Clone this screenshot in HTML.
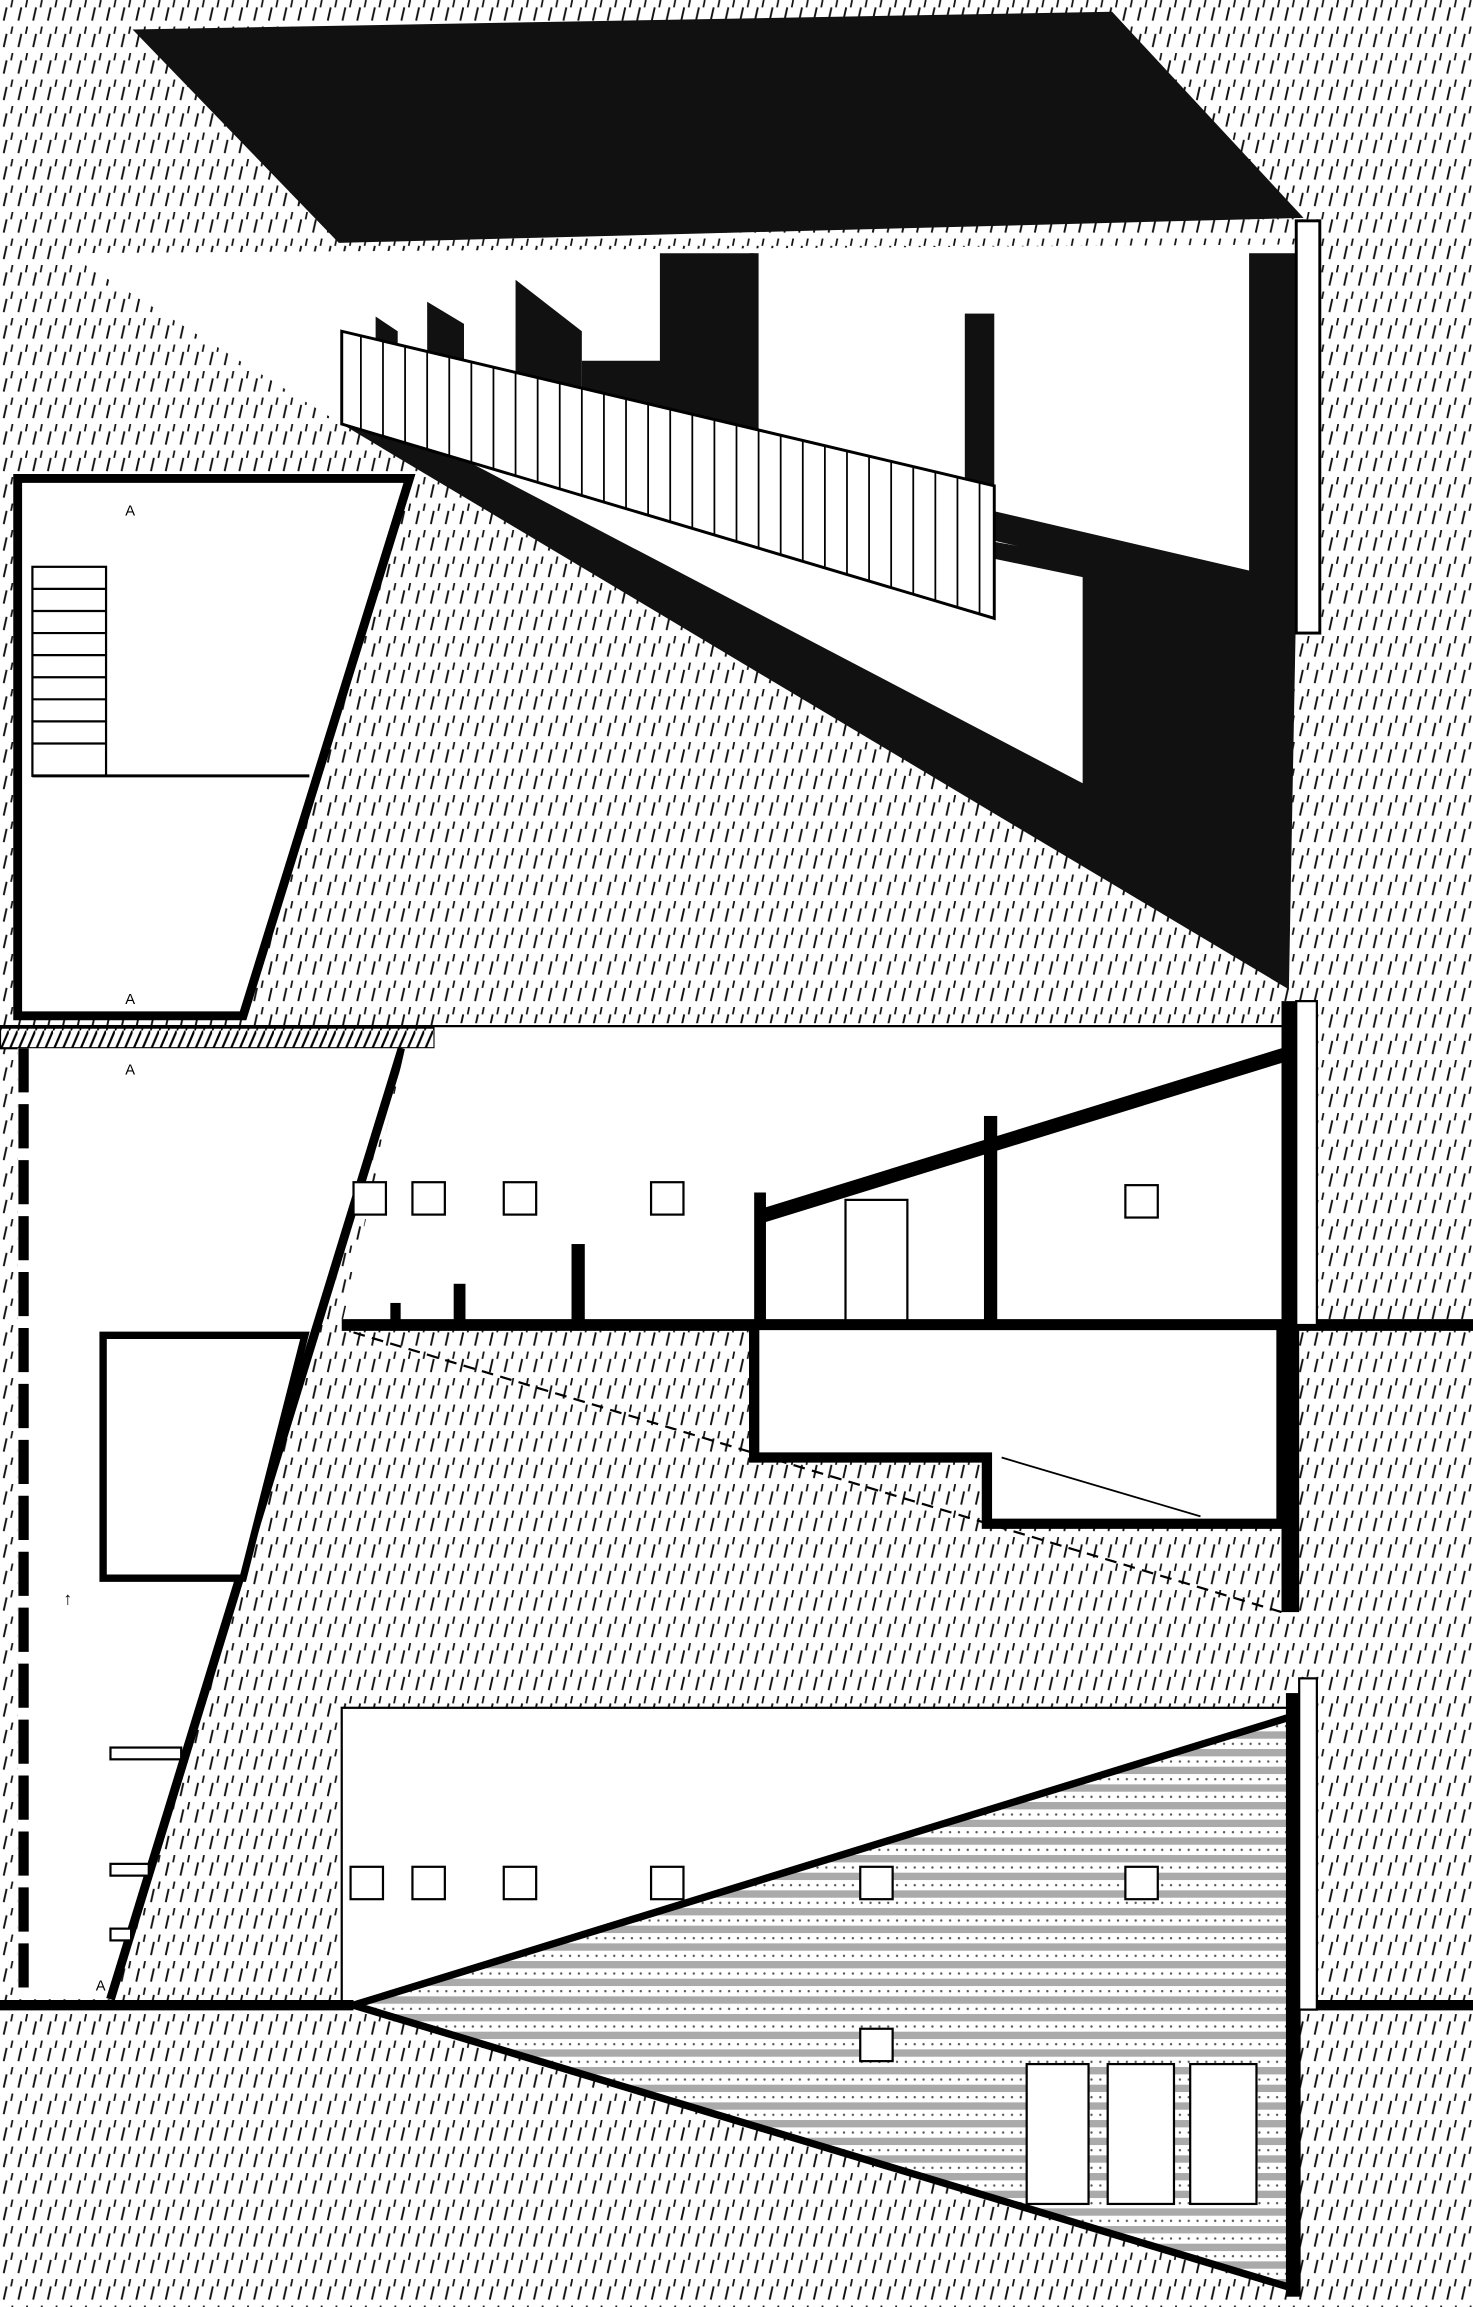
<!DOCTYPE html>
<html><head><meta charset="utf-8"><style>html,body{margin:0;padding:0;background:#fff}svg{display:block}</style></head>
<body>
<svg width="1473" height="2307" viewBox="0 0 1000 1567" preserveAspectRatio="none" xmlns="http://www.w3.org/2000/svg">
<defs>
<pattern id="h" width="10" height="18" patternUnits="userSpaceOnUse">
<line x1="2.5" y1="14" x2="4.5" y2="5" stroke="#111" stroke-width="1.3"/>
<line x1="7.5" y1="5" x2="8.5" y2="0" stroke="#111" stroke-width="1.2"/>
<line x1="5.5" y1="23" x2="6.5" y2="18" stroke="#111" stroke-width="1.2"/>
</pattern>
<pattern id="d" width="6" height="12" patternUnits="userSpaceOnUse">
<rect width="6" height="12" fill="#fff"/>
<rect y="0" width="6" height="5" fill="#aaa"/>
<circle cx="3" cy="8.5" r="0.8" fill="#555"/>
</pattern>
<pattern id="bar" width="6" height="14" patternUnits="userSpaceOnUse">
<rect width="6" height="14" fill="#fff"/><line x1="0" y1="14" x2="6" y2="0" stroke="#000" stroke-width="1.5"/>
</pattern>
</defs>
<rect width="1000" height="1567" fill="#fff"/>
<rect width="1000" height="1567" fill="url(#h)"/>

<polygon points="90,20 755,8 885,148 230,165" fill="#111"/>
<polygon points="45,172 880,166 880,405 232,288" fill="#fff"/>
<polygon points="45,172 232,288 232,230" fill="#fff"/>
<polygon points="232,288 880,405 875,672" fill="#111"/>
<polygon points="292,300 735,392 735,532" fill="#fff"/>
<polygon points="448,172 512,172 512,310 395,270 395,245 448,245" fill="#111"/>
<rect x="509" y="172" width="6" height="140" fill="#111"/>
<polygon points="350,190 395,225 395,265 350,255" fill="#111"/>
<polygon points="290,205 315,220 315,245 290,240" fill="#111"/>
<polygon points="255,215 270,225 270,238 255,232" fill="#111"/>
<polygon points="515,310 880,395 880,415 515,330" fill="#111"/>
<rect x="655" y="213" width="20" height="145" fill="#111"/>
<rect x="848" y="172" width="32" height="230" fill="#111"/>
<rect x="880" y="150" width="16" height="280" fill="#fff" stroke="#000" stroke-width="2"/>
<polygon points="232,225 675,330 675,420 232,288" fill="#fff" stroke="#000" stroke-width="2"/>
<g stroke="#000" stroke-width="1.2">
<line x1="245" y1="228" x2="245" y2="292"/><line x1="260" y1="232" x2="260" y2="296"/><line x1="275" y1="235" x2="275" y2="300"/><line x1="290" y1="239" x2="290" y2="305"/><line x1="305" y1="242" x2="305" y2="309"/><line x1="320" y1="246" x2="320" y2="314"/><line x1="335" y1="249" x2="335" y2="318"/><line x1="350" y1="253" x2="350" y2="323"/><line x1="365" y1="256" x2="365" y2="327"/><line x1="380" y1="260" x2="380" y2="332"/><line x1="395" y1="264" x2="395" y2="336"/><line x1="410" y1="267" x2="410" y2="341"/><line x1="425" y1="271" x2="425" y2="345"/><line x1="440" y1="274" x2="440" y2="350"/><line x1="455" y1="278" x2="455" y2="354"/><line x1="470" y1="281" x2="470" y2="359"/><line x1="485" y1="285" x2="485" y2="363"/><line x1="500" y1="288" x2="500" y2="368"/><line x1="515" y1="292" x2="515" y2="372"/><line x1="530" y1="296" x2="530" y2="377"/><line x1="545" y1="299" x2="545" y2="381"/><line x1="560" y1="303" x2="560" y2="386"/><line x1="575" y1="306" x2="575" y2="390"/><line x1="590" y1="310" x2="590" y2="395"/><line x1="605" y1="313" x2="605" y2="399"/><line x1="620" y1="317" x2="620" y2="404"/><line x1="635" y1="320" x2="635" y2="408"/><line x1="650" y1="324" x2="650" y2="413"/><line x1="665" y1="328" x2="665" y2="417"/>
</g>

<polygon points="12,325 278,325 165,690 12,690" fill="#fff" stroke="#000" stroke-width="6"/>
<line x1="22" y1="527" x2="210" y2="527" stroke="#000" stroke-width="2"/>
<g stroke="#000" stroke-width="1.5" fill="none"><rect x="22" y="385" width="50" height="142"/>
<line x1="22" y1="400" x2="72" y2="400"/><line x1="22" y1="415" x2="72" y2="415"/><line x1="22" y1="430" x2="72" y2="430"/><line x1="22" y1="445" x2="72" y2="445"/><line x1="22" y1="460" x2="72" y2="460"/><line x1="22" y1="475" x2="72" y2="475"/><line x1="22" y1="490" x2="72" y2="490"/><line x1="22" y1="505" x2="72" y2="505"/></g>
<text x="85" y="350" font-family="Liberation Sans,sans-serif" font-size="10">A</text>
<text x="85" y="682" font-family="Liberation Sans,sans-serif" font-size="10">A</text>

<rect x="0" y="698" width="295" height="14" fill="url(#bar)" stroke="#000" stroke-width="1.5"/>
<rect x="295" y="695" width="585" height="205" fill="#fff"/>
<line x1="0" y1="697" x2="880" y2="697" stroke="#000" stroke-width="1.5"/>
<polygon points="12,712 275,712 75,1358 12,1358" fill="#fff"/>
<line x1="16" y1="712" x2="16" y2="1358" stroke="#000" stroke-width="7" stroke-dasharray="30,8"/>
<line x1="273" y1="712" x2="75" y2="1358" stroke="#000" stroke-width="6"/>
<polygon points="70,907 207,907 165,1072 70,1072" fill="#fff" stroke="#000" stroke-width="5"/>
<rect x="77" y="945" width="8" height="65" fill="#fff"/>
<rect x="75" y="1187" width="48" height="8" fill="#fff" stroke="#000" stroke-width="1.5"/>
<rect x="75" y="1266" width="26" height="8" fill="#fff" stroke="#000" stroke-width="1.5"/>
<rect x="75" y="1310" width="14" height="8" fill="#fff" stroke="#000" stroke-width="1.5"/>
<text x="85" y="730" font-family="Liberation Sans,sans-serif" font-size="10">A</text>
<text x="65" y="1352" font-family="Liberation Sans,sans-serif" font-size="10">A</text>
<text x="43" y="1090" font-family="Liberation Sans,sans-serif" font-size="12">↑</text>
<polygon points="275,712 295,712 295,900 232,900" fill="#fff"/>
<g fill="#fff" stroke="#000" stroke-width="1.5">
<rect x="240" y="803" width="22" height="22"/><rect x="280" y="803" width="22" height="22"/><rect x="342" y="803" width="22" height="22"/><rect x="442" y="803" width="22" height="22"/><rect x="764" y="805" width="22" height="22"/></g>
<rect x="265" y="885" width="7" height="15" fill="#000"/><rect x="308" y="872" width="8" height="28" fill="#000"/><rect x="388" y="845" width="9" height="55" fill="#000"/>
<polygon points="512,810 520,810 520,820 870,712 870,722 520,830 520,900 512,900" fill="#000"/>
<rect x="668" y="758" width="9" height="142" fill="#000"/>
<rect x="574" y="815" width="42" height="85" fill="none" stroke="#000" stroke-width="1.5"/>
<line x1="232" y1="900" x2="1000" y2="900" stroke="#000" stroke-width="8"/>
<polygon points="512,900 870,900 870,1035 670,1035 670,990 512,990" fill="#fff" stroke="#000" stroke-width="7"/>
<line x1="680" y1="990" x2="815" y2="1030" stroke="#000" stroke-width="1.2"/>
<line x1="240" y1="905" x2="870" y2="1095" stroke="#000" stroke-width="1.5" stroke-dasharray="8,5"/>
<rect x="870" y="680" width="12" height="415" fill="#000"/>
<rect x="880" y="680" width="14" height="220" fill="#fff" stroke="#000" stroke-width="1.5"/>

<rect x="232" y="1160" width="648" height="202" fill="#fff" stroke="#000" stroke-width="1.5"/>
<g fill="#fff" stroke="#000" stroke-width="1.5">
<rect x="238" y="1268" width="22" height="22"/><rect x="280" y="1268" width="22" height="22"/><rect x="342" y="1268" width="22" height="22"/><rect x="442" y="1268" width="22" height="22"/></g>
<polygon points="240,1362 880,1165 880,1555" fill="url(#d)" stroke="#000" stroke-width="5"/>
<g fill="#fff" stroke="#000" stroke-width="1.5">
<rect x="584" y="1268" width="22" height="22"/><rect x="764" y="1268" width="22" height="22"/><rect x="584" y="1378" width="22" height="22"/>
<rect x="697" y="1402" width="42" height="95"/><rect x="752" y="1402" width="45" height="95"/><rect x="808" y="1402" width="45" height="95"/></g>
<line x1="0" y1="1362" x2="240" y2="1362" stroke="#000" stroke-width="7"/>
<line x1="880" y1="1362" x2="1000" y2="1362" stroke="#000" stroke-width="7"/>
<rect x="873" y="1150" width="10" height="410" fill="#000"/>
<rect x="882" y="1140" width="12" height="225" fill="#fff" stroke="#000" stroke-width="1.5"/>
</svg>
</body></html>
